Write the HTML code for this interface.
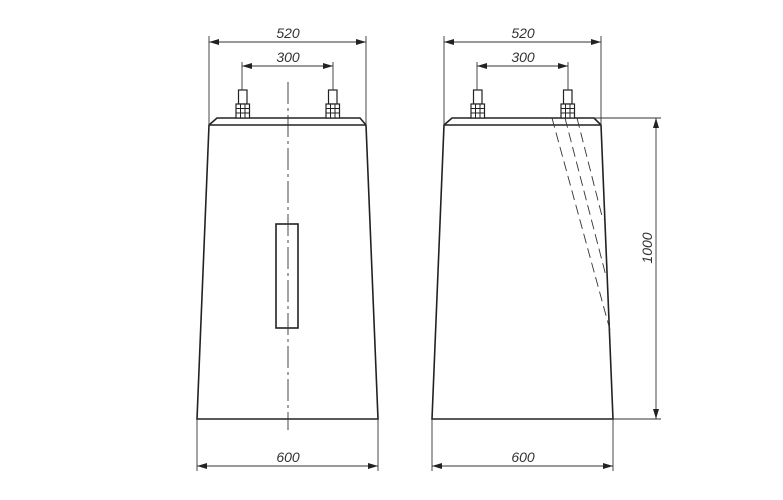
<!DOCTYPE html>
<html><head><style>
html,body{margin:0;padding:0;background:#fff;}
svg{display:block}
text{font-family:"Liberation Sans",sans-serif;font-style:italic;font-size:14px;fill:#333}
</style></head><body>
<svg width="783" height="500" viewBox="0 0 783 500" xmlns="http://www.w3.org/2000/svg">
<defs>
<marker id="a" viewBox="0 0 10 6" refX="10" refY="3" markerWidth="10" markerHeight="6" orient="auto-start-reverse" markerUnits="userSpaceOnUse"><path d="M0,0 L10,3 L0,6 z" fill="#222"/></marker>
<g id="bolt">
<rect x="-4.5" y="90" width="8.5" height="14" fill="#fff" stroke="#222" stroke-width="1.2"/>
<rect x="-7" y="104" width="13.5" height="14" fill="#fff" stroke="#222" stroke-width="1.2"/>
<line x1="-7" y1="108.5" x2="6.5" y2="108.5" stroke="#222"/>
<line x1="-7" y1="113" x2="6.5" y2="113" stroke="#222"/>
<line x1="-2.5" y1="104" x2="-2.5" y2="118" stroke="#222"/>
<line x1="2" y1="104" x2="2" y2="118" stroke="#222"/>
</g>
</defs>
<g fill="none" stroke="#222" stroke-width="1.6">
<path d="M217,118 L360,118 L366,125 L378,419 L197,419 L209,125 Z"/>
<line x1="209" y1="125" x2="366" y2="125"/>
<rect x="276" y="224" width="22" height="104"/>
<path d="M452,118 L594,118 L601,125 L613,419 L432,419 L444,125 Z"/>
<line x1="444" y1="125" x2="601" y2="125"/>
</g>
<use href="#bolt" x="243"/>
<use href="#bolt" x="333"/>
<use href="#bolt" x="478"/>
<use href="#bolt" x="568"/>
<g stroke="#333" stroke-width="0.9" fill="none">
<line x1="288" y1="82" x2="288" y2="430" stroke-dasharray="22,4,3,4"/>
<line x1="552" y1="118" x2="610" y2="330" stroke-dasharray="10,5"/>
<line x1="565" y1="118" x2="606" y2="276" stroke-dasharray="10,5"/>
<line x1="577" y1="118" x2="603" y2="220" stroke-dasharray="10,5"/>
<line x1="209" y1="36" x2="209" y2="125"/>
<line x1="366" y1="36" x2="366" y2="125"/>
<line x1="242" y1="62" x2="242" y2="90"/>
<line x1="333" y1="62" x2="333" y2="90"/>
<line x1="197" y1="419" x2="197" y2="471"/>
<line x1="378" y1="419" x2="378" y2="471"/>
<line x1="209" y1="42" x2="366" y2="42" marker-start="url(#a)" marker-end="url(#a)"/>
<line x1="242" y1="66" x2="333" y2="66" marker-start="url(#a)" marker-end="url(#a)"/>
<line x1="197" y1="466" x2="378" y2="466" marker-start="url(#a)" marker-end="url(#a)"/>
<line x1="444" y1="36" x2="444" y2="125"/>
<line x1="601" y1="36" x2="601" y2="125"/>
<line x1="477" y1="62" x2="477" y2="90"/>
<line x1="568" y1="62" x2="568" y2="90"/>
<line x1="432" y1="419" x2="432" y2="471"/>
<line x1="613" y1="419" x2="613" y2="471"/>
<line x1="594" y1="118" x2="661" y2="118"/>
<line x1="613" y1="419" x2="661" y2="419"/>
<line x1="444" y1="42" x2="601" y2="42" marker-start="url(#a)" marker-end="url(#a)"/>
<line x1="477" y1="66" x2="568" y2="66" marker-start="url(#a)" marker-end="url(#a)"/>
<line x1="432" y1="466" x2="613" y2="466" marker-start="url(#a)" marker-end="url(#a)"/>
<line x1="656" y1="118" x2="656" y2="419" marker-start="url(#a)" marker-end="url(#a)"/>
</g>
<text x="288" y="38" text-anchor="middle">520</text>
<text x="288" y="62" text-anchor="middle">300</text>
<text x="288" y="462" text-anchor="middle">600</text>
<text x="523" y="38" text-anchor="middle">520</text>
<text x="523" y="62" text-anchor="middle">300</text>
<text x="523" y="462" text-anchor="middle">600</text>
<text x="0" y="0" text-anchor="middle" transform="translate(652,248) rotate(-90)">1000</text>
</svg>
</body></html>
